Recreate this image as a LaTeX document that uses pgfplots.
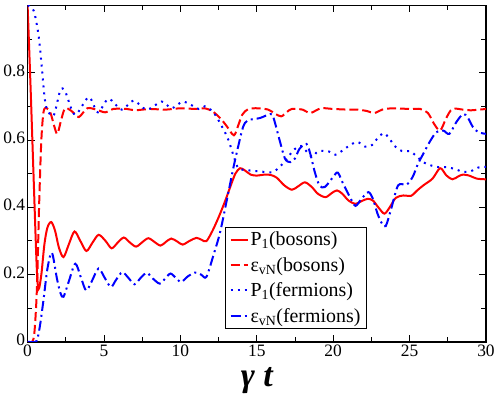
\documentclass[border=0pt]{standalone}
\usepackage{fontspec}
\setmainfont{Liberation Serif}
\usepackage{pgfplots}
\pgfplotsset{compat=1.18}

\definecolor{pred}{RGB}{255,0,0}
\definecolor{pblue}{RGB}{0,0,255}

\begin{document}
\begin{tikzpicture}
\begin{axis}[
  scale only axis,
  width=459bp, height=337bp,
  xmin=0, xmax=30, ymin=0, ymax=1,
  xtick={0,5,...,30},
  ytick={0,0.2,0.4,0.6,0.8,1},
  yticklabels={0,0.2,0.4,0.6,0.8,},
  minor x tick num=1,
  minor y tick num=1,
  tick align=inside,
  major tick length=7bp,
  minor tick length=4.5bp,
  every tick/.style={black, line width=0.8bp},
  axis line style={line width=1.3bp},
  /pgf/number format/assume math mode=true,
  tick label style={font=\fontsize{17.5}{17.5}\selectfont},
  xticklabel style={yshift=0bp},
  yticklabel style={xshift=1bp, yshift=2bp},
  xlabel={\fontsize{34}{34}\selectfont\bfseries\itshape γ t},
  xlabel style={yshift=-4bp},
  legend style={
    at={(0.431,0.341)}, anchor=north west,
    draw=black, line width=0.8bp, fill=white,
    font=\fontsize{20}{21}\selectfont,
    inner xsep=4bp, inner ysep=2.5bp, row sep=6bp,
    cells={anchor=west},
  },
  legend cell align=left,
]
\addplot[pred, line width=2bp, smooth, tension=0.5] coordinates {
(0,1.0) (0.2,0.75) (0.4,0.48) (0.6,0.22) (0.72,0.157) (0.9,0.2) (1.1,0.29)
(1.3,0.34) (1.55,0.356) (1.8,0.33) (2.05,0.28) (2.35,0.252) (2.7,0.29)
(3.07,0.328) (3.45,0.3) (3.85,0.27) (4.25,0.295) (4.65,0.318) (5.1,0.3)
(5.5,0.278) (5.9,0.295) (6.3,0.31) (6.7,0.295) (7.1,0.283) (7.5,0.296)
(7.9,0.308) (8.3,0.297) (8.7,0.286) (9.05,0.297) (9.4,0.307) (9.8,0.298)
(10.15,0.289) (10.6,0.3) (11.05,0.309) (11.4,0.303) (11.7,0.299) (12.1,0.33)
(12.5,0.37) (12.9,0.415) (13.3,0.465) (13.6,0.5) (13.9,0.516) (14.2,0.51)
(14.6,0.497) (15.0,0.494) (15.5,0.497) (15.9,0.496) (16.3,0.488) (16.8,0.465)
(17.3,0.452) (17.7,0.462) (18.15,0.474) (18.6,0.46) (19.0,0.44) (19.5,0.43)
(19.9,0.442) (20.25,0.45) (20.6,0.44) (21.0,0.42) (21.45,0.41) (21.85,0.418)
(22.25,0.425) (22.6,0.42) (22.95,0.4) (23.35,0.381) (23.7,0.4) (24.1,0.428)
(24.6,0.435) (25.1,0.434) (25.5,0.45) (25.9,0.465) (26.5,0.485) (27.0,0.516)
(27.4,0.495) (27.8,0.483) (28.2,0.492) (28.5,0.497) (28.9,0.494) (29.4,0.485)
(30,0.483)
};
\addlegendentry{P\textsubscript{1}(bosons)}
\addplot[pred, line width=2bp, smooth, tension=0.5, dash pattern=on 9bp off 4bp] coordinates {
(0,0) (0.3,0.0) (0.45,0.03) (0.61,0.158) (0.76,0.415) (0.9,0.6) (1.05,0.685)
(1.26,0.694) (1.5,0.68) (1.75,0.64) (1.95,0.618) (2.2,0.66) (2.46,0.694)
(2.9,0.685) (3.35,0.668) (3.9,0.694) (4.5,0.69) (5.08,0.682) (5.6,0.692)
(6.5,0.692) (7,0.688) (8,0.692) (9,0.69) (10,0.694) (11,0.692) (11.6,0.694)
(12.1,0.685) (12.6,0.665) (13.0,0.643) (13.5,0.614) (13.8,0.645) (14.05,0.675)
(14.45,0.692) (15.1,0.694) (15.75,0.69) (16.2,0.678) (16.6,0.67) (17.0,0.684)
(17.3,0.692) (18.0,0.69) (18.5,0.68) (19.2,0.694) (20,0.692) (21,0.69)
(21.6,0.69) (22.2,0.686) (22.7,0.68) (23.2,0.69) (23.9,0.694) (25,0.692)
(25.7,0.692) (26.2,0.68) (26.6,0.648) (27.0,0.628) (27.4,0.665) (27.8,0.692)
(28.5,0.69) (29,0.688) (30,0.692)
};
\addlegendentry{ε\textsubscript{vN}(bosons)}
\addplot[pblue, line width=2bp, smooth, tension=0.5, dash pattern=on 2bp off 5bp] coordinates {
(0,1.0) (0.4,0.984) (0.72,0.91) (0.94,0.811) (1.1,0.732) (1.26,0.692)
(1.7,0.672) (2.14,0.747) (2.46,0.744) (3.1,0.675) (4.0,0.727) (4.6,0.682)
(5.3,0.722) (6.16,0.69) (6.93,0.717) (7.8,0.69) (8.78,0.714) (9.43,0.694)
(10.2,0.714) (11.2,0.692) (11.6,0.70) (12.1,0.685) (12.5,0.658) (13.1,0.605)
(13.5,0.55) (13.8,0.516) (14.4,0.51) (15.1,0.507) (16.0,0.504) (16.5,0.52)
(16.9,0.54) (17.4,0.569) (17.9,0.582) (18.6,0.55) (19.0,0.566) (19.7,0.566)
(20.15,0.556) (20.65,0.57) (21.15,0.586) (21.6,0.594) (22.1,0.58) (22.55,0.585)
(22.85,0.602) (23.3,0.62) (23.7,0.603) (24.0,0.583) (24.5,0.567) (25.0,0.567)
(25.45,0.552) (25.85,0.535) (26.35,0.525) (26.9,0.519) (27.4,0.519)
(27.95,0.514) (28.5,0.505) (29.0,0.507) (29.5,0.518) (30,0.52)
};
\addlegendentry{P\textsubscript{1}(fermions)}
\addplot[pblue, line width=2bp, smooth, tension=0.5, dash pattern=on 10bp off 4bp on 2bp off 4bp] coordinates {
(0,0) (0.5,0.0) (0.65,0.01) (0.83,0.054) (1.05,0.128) (1.3,0.218) (1.59,0.265)
(1.92,0.188) (2.15,0.145) (2.35,0.134) (2.7,0.18) (3.12,0.232) (3.5,0.19)
(3.83,0.153) (4.2,0.18) (4.64,0.218) (5.05,0.19) (5.45,0.163) (5.8,0.185)
(6.2,0.207) (6.6,0.19) (7.0,0.171) (7.4,0.19) (7.8,0.205) (8.2,0.188)
(8.65,0.173) (9.0,0.188) (9.35,0.203) (9.7,0.19) (10.05,0.178) (10.5,0.195)
(10.96,0.206) (11.35,0.2) (11.7,0.193) (12.16,0.257) (12.6,0.326) (13.1,0.435)
(13.5,0.524) (13.8,0.584) (14.1,0.638) (14.4,0.658) (15.2,0.665) (15.9,0.677)
(16.1,0.665) (16.5,0.598) (16.85,0.544) (17.2,0.534) (17.5,0.545) (17.8,0.574)
(18.25,0.588) (18.5,0.559) (18.8,0.504) (19.1,0.465) (19.45,0.46) (20.0,0.49)
(20.3,0.503) (20.65,0.47) (21.1,0.43) (21.46,0.404) (21.85,0.425) (22.3,0.445)
(22.6,0.425) (22.9,0.381) (23.2,0.351) (23.44,0.344) (23.8,0.396) (24.25,0.465)
(24.8,0.467) (25.2,0.49) (25.55,0.529) (25.9,0.559) (26.3,0.593) (26.75,0.623)
(27.2,0.628) (27.6,0.618) (28.06,0.653) (28.5,0.677) (28.8,0.667) (29.15,0.638)
(29.5,0.623) (30,0.618)
};
\addlegendentry{ε\textsubscript{vN}(fermions)}
\end{axis}
\end{tikzpicture}
\end{document}
